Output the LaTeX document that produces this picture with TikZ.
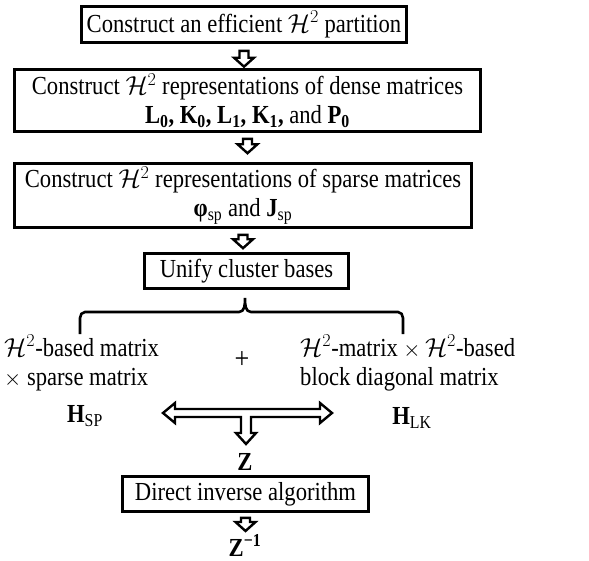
\RequirePackage{fix-cm}
\documentclass[tikz,border=0pt]{standalone}
\usepackage{fontspec}
\setmainfont{Liberation Serif}[FakeStretch=0.87]
\usetikzlibrary{positioning,calc}

\newcommand{\bsub}[2]{\textbf{#1}\textsubscript{\textbf{#2}}}
\newcommand{\Htwo}{$\mathcal{H}^2$}

\tikzset{
  stepbox/.style={draw, line width=2.6pt, align=center, inner sep=0pt},
  hollow/.style={line width=2.4pt, to path={let \p1=(\tikztostart), \p2=(\tikztotarget) in
    (\x1-4.5pt,\y1) -- (\x1+4.5pt,\y1) -- (\x1+4.5pt,\y2+9pt) -- (\x1+10pt,\y2+9pt)
    -- (\x1,\y2) -- (\x1-10pt,\y2+9pt) -- (\x1-4.5pt,\y2+9pt) -- cycle}},
}

\begin{document}
\begin{tikzpicture}[x=1pt,y=1pt,font=\fontsize{26}{29}\selectfont]
\useasboundingbox (0,0) rectangle (589,-560);
% boxes
\node[stepbox, minimum width=325pt, minimum height=36pt] (part) at (244,-24.5) {Construct an efficient \Htwo{} partition};
\node[stepbox, minimum width=466pt, minimum height=62pt] (dense) at (247.5,-100.5) {Construct \Htwo{} representations of dense matrices\\
  \bsub{L}{0}\textbf{,} \bsub{K}{0}\textbf{,} \bsub{L}{1}\textbf{,} \bsub{K}{1}\textbf{,} and \bsub{P}{0}};
\node[stepbox, minimum width=457pt, minimum height=64pt] (sparse) at (243,-195.5) {Construct \Htwo{} representations of sparse matrices\\
  \textbf{φ}\textsubscript{sp} and \textbf{J}\textsubscript{sp}};
\node[stepbox, minimum width=204pt, minimum height=35pt] (unify) at (246.5,-271) {Unify cluster bases};
\node[stepbox, minimum width=246pt, minimum height=35pt] (direct) at (245.5,-494) {Direct inverse algorithm};
% texts
\node[align=left, anchor=north west, inner sep=0pt] (lefttxt) at (4,-335) {\Htwo-based matrix\\ \scalebox{.85}{$\times$} sparse matrix};
\node[align=left, anchor=north west, inner sep=0pt] (righttxt) at (300,-335) {\Htwo-matrix \scalebox{.85}{$\times$}\,\Htwo-based\\ block diagonal matrix};
\node[font=\fontsize{30}{32}\selectfont] (plus) at (242,-360) {+};
\node (hsp) at (85,-416) {\textbf{H}\textsubscript{SP}};
\node (hlk) at (412,-418) {\textbf{H}\textsubscript{LK}};
\node[inner sep=0pt] (z) at (245,-462) {\textbf{Z}};
\node[inner sep=0pt, anchor=base] (zinv) at (245,-556) {\textbf{Z\textsuperscript{−1}}};
% arrows
\draw[hollow] ([yshift=-7pt]part.south) to ([yshift=1.5pt]dense.north);
\draw[hollow] ([yshift=-6pt]dense.south) to ([yshift=9pt]sparse.north);
\draw[hollow] ([yshift=-6pt]sparse.south) to ([yshift=4pt]unify.north);
\draw[hollow] ([yshift=-5pt]direct.south) to ([yshift=25pt]zinv.base);
% brace
\draw[line width=2.6pt] (80,-334) -- (80,-318) to[out=90,in=180] (85,-312) -- (239,-312)
  to[out=0,in=-90] (245,-298) to[out=-90,in=180] (251,-312) -- (398,-312)
  to[out=0,in=90] (403,-318) -- (403,-334);
% T arrow
\coordinate (tee) at (246,-413);
\begin{scope}[shift={(tee)}]
\draw[line width=2.4pt] (-5,-4) -- (-5,-20) -- (-10,-20) -- (0,-31) -- (10,-20) -- (5,-20)
  -- (5,-4) -- (74,-4) -- (74,-10) -- (86,0) -- (74,10) -- (74,4) -- (-71,4) -- (-71,10)
  -- (-83,0) -- (-71,-10) -- (-71,-4) -- cycle;
\end{scope}
\end{tikzpicture}
\end{document}
